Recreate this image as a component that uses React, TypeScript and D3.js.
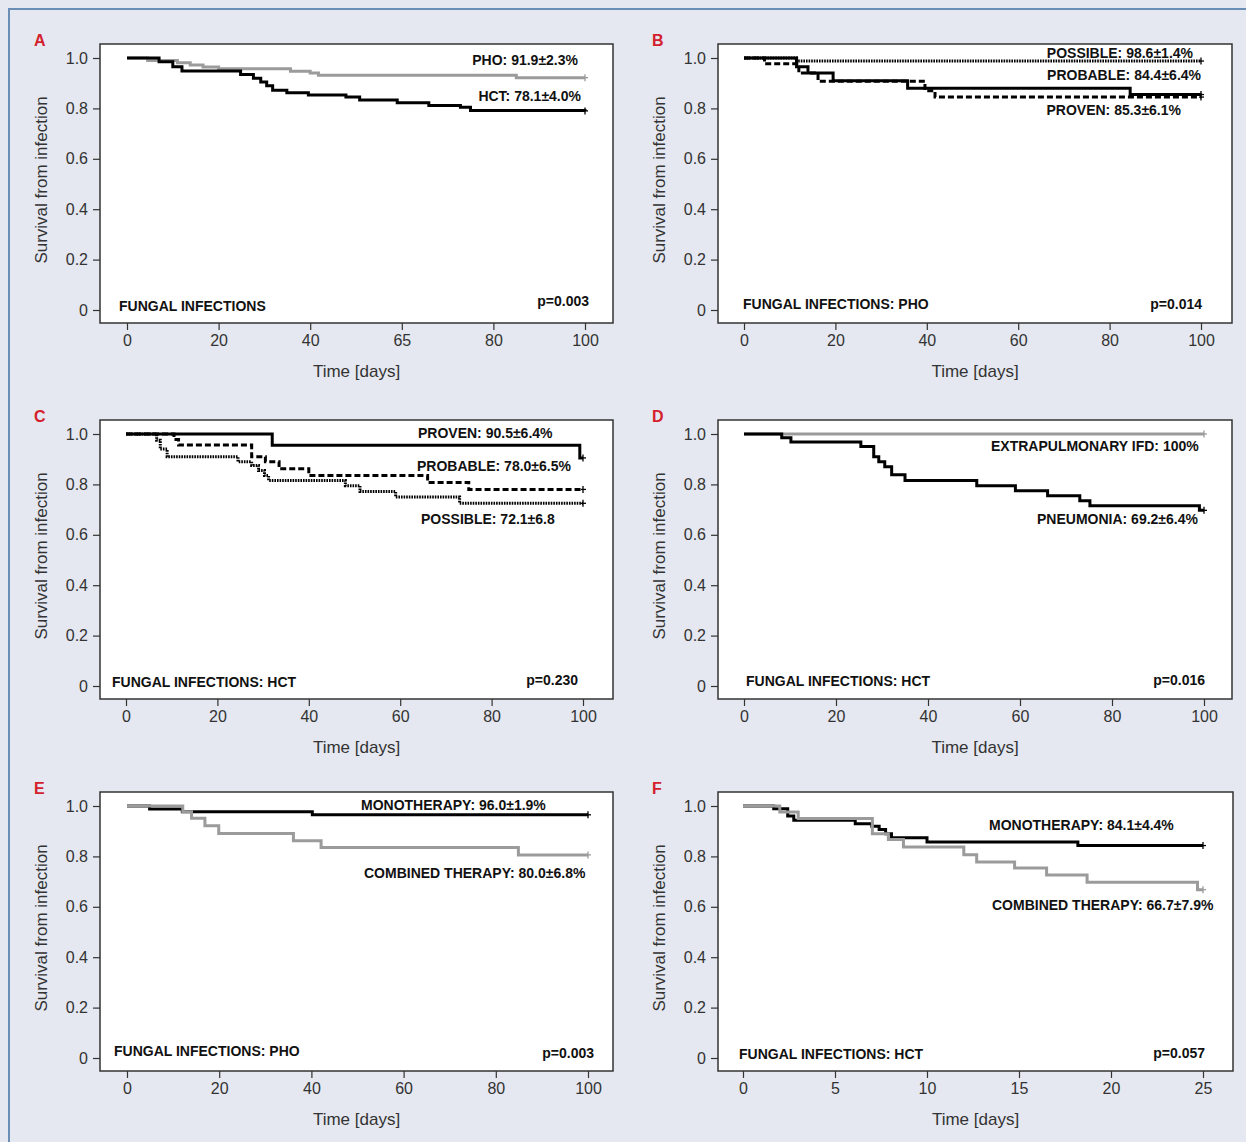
import React, { useEffect, useRef } from 'react';
import * as d3 from 'd3';

const W = 1246;
const H = 1142;

// Kaplan-Meier steps, [day, survival]
const A_PHO = [[0, 1], [4.5, 0.99], [11, 0.981], [13.8, 0.972], [16.6, 0.964], [20, 0.957], [35.7, 0.947], [40, 0.94], [41.8, 0.932], [85, 0.922], [100, 0.922]];
const A_HCT = [[0, 1], [7, 0.985], [10, 0.965], [12, 0.948], [24.8, 0.935], [27.6, 0.92], [29.2, 0.905], [30.5, 0.89], [31.8, 0.872], [34.9, 0.862], [39.6, 0.853], [47.8, 0.845], [50.8, 0.833], [59, 0.822], [65.9, 0.812], [72.8, 0.805], [75, 0.792], [100, 0.79]];

const B_POSSIBLE = [[0, 1], [11.5, 0.988], [100, 0.988]];
const B_PROBABLE = [[0, 1], [4.5, 0.977], [12, 0.94], [16.2, 0.908], [39.6, 0.87], [41.8, 0.845], [100, 0.845]];
const B_PROVEN = [[0, 1], [11.5, 0.965], [14, 0.94], [19.5, 0.91], [35.8, 0.88], [84.5, 0.855], [100, 0.855]];

const C_PROVEN = [[0, 1], [32, 0.955], [99.3, 0.905], [100, 0.905]];
const C_PROBABLE = [[0, 1], [10.5, 0.978], [11.5, 0.956], [27.5, 0.91], [30.5, 0.89], [33.5, 0.862], [40, 0.835], [66, 0.808], [75, 0.78], [100, 0.78]];
const C_POSSIBLE = [[0, 1], [6.7, 0.975], [7.5, 0.94], [9, 0.91], [24.5, 0.89], [27.5, 0.875], [29, 0.855], [30.3, 0.835], [31.2, 0.815], [48, 0.795], [51.2, 0.772], [59, 0.75], [73, 0.725], [100, 0.725]];

const D_EXTRA = [[0, 1], [100, 1]];
const D_PNEU = [[0, 1], [8.2, 0.985], [10.2, 0.968], [25.4, 0.95], [28.2, 0.91], [29.3, 0.89], [30.6, 0.87], [32.1, 0.838], [35, 0.815], [50.6, 0.795], [59, 0.775], [66, 0.755], [73, 0.735], [75.2, 0.715], [99, 0.697], [100, 0.697]];

const E_MONO = [[0, 1], [4.9, 0.988], [12, 0.977], [40.2, 0.965], [100, 0.965]];
const E_COMB = [[0, 1], [12.1, 0.977], [14, 0.951], [16.9, 0.922], [19.9, 0.891], [36.1, 0.862], [42.1, 0.835], [84.9, 0.806], [100, 0.806]];

const F_MONO = [[0, 1], [1.67, 0.989], [2.43, 0.96], [2.76, 0.943], [6.1, 0.93], [7.0, 0.92], [7.4, 0.907], [7.75, 0.89], [8.07, 0.874], [10.0, 0.857], [18.2, 0.843], [25, 0.843]];
const F_COMB = [[0, 1], [2.0, 0.976], [3.0, 0.95], [7.03, 0.89], [7.9, 0.867], [8.72, 0.837], [12.0, 0.807], [12.7, 0.778], [14.76, 0.754], [16.5, 0.726], [18.7, 0.697], [24.7, 0.668], [25, 0.668]];

// axis ticks
const Y_TICKS = [0, 0.2, 0.4, 0.6, 0.8, 1];
const Y_LABELS = ['0', '0.2', '0.4', '0.6', '0.8', '1.0'];
const X_TICKS_100 = [0, 20, 40, 60, 80, 100];
const X_LABELS_A = ['0', '20', '40', '65', '80', '100'];
const X_LABELS_100 = ['0', '20', '40', '60', '80', '100'];
const X_TICKS_25 = [0, 5, 10, 15, 20, 25];
const X_LABELS_25 = ['0', '5', '10', '15', '20', '25'];

const BLACK = '#000';
const GRAY = '#9b9b9b';
const DASHED = '6,3';
const DOTTED = '1.6,1';

const panels = [
  {
    letter: 'A', x: 100, y: 44, w: 513, x0: 127, x1: 585, xMax: 100, ticks: X_TICKS_100, labels: X_LABELS_A,
    series: [{ data: A_PHO, color: GRAY }, { data: A_HCT, color: BLACK }],
    notes: [
      { t: 'PHO: 91.9±2.3%', dx: 478, dy: 21, a: 'end' },
      { t: 'HCT: 78.1±4.0%', dx: 481, dy: 57, a: 'end' },
      { t: 'FUNGAL INFECTIONS', dx: 19, dy: 267, a: 'start' },
      { t: 'p=0.003', dx: 489, dy: 262, a: 'end' },
    ],
  },
  {
    letter: 'B', x: 718, y: 44, w: 514, x0: 744, x1: 1201, xMax: 100, ticks: X_TICKS_100, labels: X_LABELS_100,
    series: [
      { data: B_POSSIBLE, color: BLACK, dash: DOTTED, width: 3 },
      { data: B_PROBABLE, color: BLACK, dash: DASHED },
      { data: B_PROVEN, color: BLACK },
    ],
    notes: [
      { t: 'POSSIBLE: 98.6±1.4%', dx: 475, dy: 14, a: 'end' },
      { t: 'PROBABLE: 84.4±6.4%', dx: 483, dy: 36, a: 'end' },
      { t: 'PROVEN: 85.3±6.1%', dx: 463, dy: 71, a: 'end' },
      { t: 'FUNGAL INFECTIONS: PHO', dx: 25, dy: 265, a: 'start' },
      { t: 'p=0.014', dx: 484, dy: 265, a: 'end' },
    ],
  },
  {
    letter: 'C', x: 100, y: 420, w: 513, x0: 126, x1: 583, xMax: 100, ticks: X_TICKS_100, labels: X_LABELS_100,
    series: [
      { data: C_POSSIBLE, color: BLACK, dash: DOTTED, width: 3 },
      { data: C_PROBABLE, color: BLACK, dash: DASHED },
      { data: C_PROVEN, color: BLACK },
    ],
    notes: [
      { t: 'PROVEN: 90.5±6.4%', dx: 318, dy: 18, a: 'start' },
      { t: 'PROBABLE: 78.0±6.5%', dx: 317, dy: 51, a: 'start' },
      { t: 'POSSIBLE: 72.1±6.8', dx: 321, dy: 104, a: 'start' },
      { t: 'FUNGAL INFECTIONS: HCT', dx: 12, dy: 267, a: 'start' },
      { t: 'p=0.230', dx: 478, dy: 265, a: 'end' },
    ],
  },
  {
    letter: 'D', x: 718, y: 420, w: 514, x0: 744, x1: 1204, xMax: 100, ticks: X_TICKS_100, labels: X_LABELS_100,
    series: [{ data: D_EXTRA, color: GRAY }, { data: D_PNEU, color: BLACK }],
    notes: [
      { t: 'EXTRAPULMONARY IFD: 100%', dx: 273, dy: 31, a: 'start' },
      { t: 'PNEUMONIA: 69.2±6.4%', dx: 319, dy: 104, a: 'start' },
      { t: 'FUNGAL INFECTIONS: HCT', dx: 28, dy: 266, a: 'start' },
      { t: 'p=0.016', dx: 487, dy: 265, a: 'end' },
    ],
  },
  {
    letter: 'E', x: 100, y: 792, w: 513, x0: 127, x1: 588, xMax: 100, ticks: X_TICKS_100, labels: X_LABELS_100,
    series: [{ data: E_MONO, color: BLACK }, { data: E_COMB, color: GRAY }],
    notes: [
      { t: 'MONOTHERAPY: 96.0±1.9%', dx: 261, dy: 18, a: 'start' },
      { t: 'COMBINED THERAPY: 80.0±6.8%', dx: 264, dy: 86, a: 'start' },
      { t: 'FUNGAL INFECTIONS: PHO', dx: 14, dy: 264, a: 'start' },
      { t: 'p=0.003', dx: 494, dy: 266, a: 'end' },
    ],
  },
  {
    letter: 'F', x: 718, y: 792, w: 515, x0: 743, x1: 1203, xMax: 25, ticks: X_TICKS_25, labels: X_LABELS_25,
    series: [{ data: F_MONO, color: BLACK }, { data: F_COMB, color: GRAY }],
    notes: [
      { t: 'MONOTHERAPY: 84.1±4.4%', dx: 271, dy: 38, a: 'start' },
      { t: 'COMBINED THERAPY: 66.7±7.9%', dx: 274, dy: 118, a: 'start' },
      { t: 'FUNGAL INFECTIONS: HCT', dx: 21, dy: 267, a: 'start' },
      { t: 'p=0.057', dx: 487, dy: 266, a: 'end' },
    ],
  },
];

const BOX_H = 279;
const FONT = '"Liberation Sans", Arial, sans-serif';

const App = () => {
  const svgRef = useRef(null);

  useEffect(() => {
    const svg = d3.select(svgRef.current);
    svg.selectAll('*').remove();

    svg.append('rect').attr('width', W).attr('height', H).attr('fill', '#e5e8f0');
    // frame lines on top and left
    svg.append('path')
      .attr('d', `M9,${H} L9,9 L${W},9`)
      .attr('fill', 'none')
      .attr('stroke', '#6a8fb6')
      .attr('stroke-width', 2);

    panels.forEach(p => {
      const g = svg.append('g');
      const x = d3.scaleLinear().domain([0, p.xMax]).range([p.x0, p.x1]);
      const y = d3.scaleLinear().domain([0, 1]).range([p.y + 266, p.y + 14]);
      const bottom = p.y + BOX_H;

      g.append('rect')
        .attr('x', p.x).attr('y', p.y)
        .attr('width', p.w).attr('height', BOX_H)
        .attr('fill', '#fff')
        .attr('stroke', '#333')
        .attr('stroke-width', 1.5);

      // panel letter
      g.append('text')
        .attr('x', p.x - 66).attr('y', p.y + 2)
        .attr('fill', '#d4202c')
        .attr('font-family', FONT)
        .attr('font-weight', 'bold')
        .attr('font-size', 16)
        .text(p.letter);

      // axes
      const xAxis = g.append('g')
        .attr('transform', `translate(0,${bottom})`)
        .call(d3.axisBottom(x).tickValues(p.ticks).tickFormat((d, i) => p.labels[i]).tickSize(7).tickPadding(5));
      const yAxis = g.append('g')
        .attr('transform', `translate(${p.x},0)`)
        .call(d3.axisLeft(y).tickValues(Y_TICKS).tickFormat((d, i) => Y_LABELS[i]).tickSize(7).tickPadding(5));
      [xAxis, yAxis].forEach(ax => {
        ax.select('.domain').remove();
        ax.selectAll('line').attr('stroke', '#333').attr('stroke-width', 1.2);
        ax.selectAll('text').attr('fill', '#333').attr('font-size', 16).attr('font-family', FONT);
      });

      // axis titles
      g.append('text')
        .attr('x', p.x + p.w / 2).attr('y', bottom + 54)
        .attr('text-anchor', 'middle')
        .attr('font-family', FONT).attr('font-size', 17).attr('fill', '#333')
        .text('Time [days]');
      g.append('text')
        .attr('transform', `translate(${p.x - 53},${y(0.5) - 4}) rotate(-90)`)
        .attr('text-anchor', 'middle')
        .attr('font-family', FONT).attr('font-size', 17).attr('fill', '#333')
        .text('Survival from infection');

      // survival curves
      const line = d3.line().x(d => x(d[0])).y(d => y(d[1])).curve(d3.curveStepAfter);
      p.series.forEach(s => {
        g.append('path')
          .datum(s.data)
          .attr('fill', 'none')
          .attr('stroke', s.color)
          .attr('stroke-width', s.width || 3)
          .attr('stroke-dasharray', s.dash || null)
          .attr('d', line);
        const last = s.data[s.data.length - 1];
        g.append('line')
          .attr('x1', x(last[0])).attr('x2', x(last[0]))
          .attr('y1', y(last[1]) - 3.5).attr('y2', y(last[1]) + 3.5)
          .attr('stroke', s.color).attr('stroke-width', 1.3);
        g.append('line')
          .attr('x1', x(last[0]) - 2).attr('x2', x(last[0]) + 3)
          .attr('y1', y(last[1])).attr('y2', y(last[1]))
          .attr('stroke', s.color).attr('stroke-width', 1.3);
      });

      // annotations
      p.notes.forEach(n => {
        g.append('text')
          .attr('x', p.x + n.dx).attr('y', p.y + n.dy)
          .attr('text-anchor', n.a)
          .attr('font-family', FONT)
          .attr('font-weight', 'bold')
          .attr('font-size', 14)
          .attr('fill', '#111')
          .text(n.t);
      });
    });
  }, []);

  return (
    <svg
      ref={svgRef}
      width={W}
      height={H}
      style={{ position: 'absolute', left: 0, top: 0, display: 'block' }}
    />
  );
};

export default App;
